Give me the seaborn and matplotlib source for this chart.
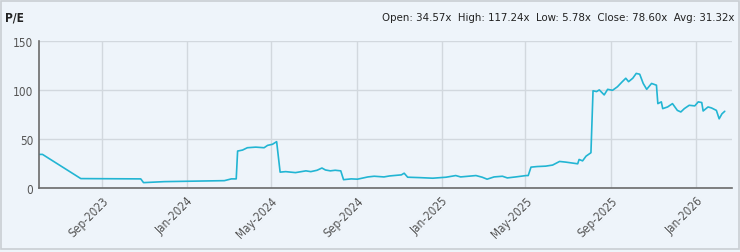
import matplotlib
matplotlib.use("Agg")
import matplotlib.pyplot as plt
import matplotlib.dates as mdates
from matplotlib.patches import Rectangle
import pandas as pd
import seaborn as sns

dates = [
    "2023-06-03", "2023-06-08", "2023-08-02", "2023-10-27", "2023-10-31", "2023-11-30",
    "2024-02-24", "2024-03-05", "2024-03-12", "2024-03-14", "2024-03-21", "2024-03-28",
    "2024-04-09", "2024-04-21", "2024-04-26", "2024-05-03", "2024-05-09", "2024-05-14",
    "2024-05-22", "2024-06-05", "2024-06-20", "2024-06-27", "2024-07-06", "2024-07-13",
    "2024-07-18", "2024-07-25", "2024-08-01", "2024-08-09", "2024-08-13", "2024-08-24",
    "2024-09-02", "2024-09-17", "2024-09-26", "2024-10-10", "2024-10-18", "2024-11-04",
    "2024-11-08", "2024-11-13", "2024-11-30", "2024-12-19", "2025-01-07", "2025-01-21",
    "2025-01-28", "2025-02-19", "2025-02-28", "2025-03-07", "2025-03-17", "2025-03-29",
    "2025-04-05", "2025-04-17", "2025-05-02", "2025-05-05", "2025-05-09", "2025-05-18",
    "2025-05-30", "2025-06-09", "2025-06-19", "2025-06-28", "2025-07-08", "2025-07-15",
    "2025-07-17", "2025-07-22", "2025-07-27", "2025-08-03", "2025-08-06", "2025-08-11",
    "2025-08-15", "2025-08-22", "2025-08-27", "2025-09-03", "2025-09-10", "2025-09-17",
    "2025-09-22", "2025-09-26", "2025-10-02", "2025-10-07", "2025-10-12", "2025-10-17",
    "2025-10-22", "2025-10-29", "2025-11-05", "2025-11-07", "2025-11-12", "2025-11-14",
    "2025-11-21", "2025-11-28", "2025-12-05", "2025-12-10", "2025-12-15", "2025-12-22",
    "2025-12-30", "2026-01-04", "2026-01-09", "2026-01-11", "2026-01-18", "2026-01-23",
    "2026-01-30", "2026-02-03", "2026-02-07", "2026-02-11",
]
pe_values = [
    34.57, 34.6, 9.9, 9.6, 5.78, 6.8,
    7.8, 9.6, 9.6, 38.0, 39.0, 41.4,
    42.0, 41.4, 43.8, 44.9, 47.6, 16.5,
    17.0, 16.0, 17.8, 17.0, 18.4, 20.7,
    18.7, 17.8, 18.4, 17.8, 8.8, 9.6,
    9.3, 11.6, 12.3, 11.6, 12.6, 13.7,
    15.4, 11.3, 10.9, 10.3, 11.3, 13.0,
    11.6, 13.0, 11.3, 9.3, 11.6, 12.3,
    10.6, 11.6, 13.0, 13.0, 21.6, 22.2,
    22.6, 23.7, 27.4, 26.7, 25.7, 25.0,
    29.4, 28.0, 32.8, 36.3, 99.5, 98.7,
    100.4, 95.3, 101.0, 100.0, 103.6, 108.8,
    112.3, 108.8, 112.3, 117.24, 116.4, 107.0,
    101.0, 107.0, 105.2, 86.4, 88.2, 81.3,
    83.0, 86.4, 79.5, 77.9, 81.3, 84.7,
    84.1, 88.2, 87.5, 78.9, 83.0, 82.0,
    79.5, 70.9, 76.0, 78.60,
]
title_text = "P/E"
stats_text = "Open: 34.57x  High: 117.24x  Low: 5.78x  Close: 78.60x  Avg: 31.32x"
y_ticks = [0, 50, 100, 150]
x_start, x_end = "2023-06-03", "2026-02-21"

bg = "#eef4fa"
sns.set_style("whitegrid", {
    "axes.facecolor": bg,
    "figure.facecolor": bg,
    "grid.color": "#d2d8de",
    "axes.edgecolor": "#6b6b6b",
})
plt.rcParams["font.family"] = ["DejaVu Sans"]
plt.rcParams["font.stretch"] = "condensed"

df = pd.DataFrame({"date": pd.to_datetime(dates), "pe": pe_values})

fig = plt.figure(figsize=(7.4, 2.53), dpi=100)
ax = fig.add_axes([0.0527, 0.2518, 0.9361, 0.581])
sns.lineplot(data=df, x="date", y="pe", ax=ax, color="#22b5d3", linewidth=1.2)

ax.set_xlim(pd.Timestamp(x_start), pd.Timestamp(x_end))
ax.set_ylim(0, 150)
ax.set_yticks(y_ticks)
ax.xaxis.set_major_locator(mdates.MonthLocator(bymonth=[1, 5, 9]))
ax.xaxis.set_major_formatter(mdates.DateFormatter("%b-%Y"))
ax.set_xlabel("")
ax.set_ylabel("")
ax.grid(True, color="#d2d8de", linewidth=1.0)
for s in ["top", "right"]:
    ax.spines[s].set_visible(False)
for s in ["left", "bottom"]:
    ax.spines[s].set_color("#6b6b6b")
    ax.spines[s].set_linewidth(1.2)
ax.tick_params(axis="both", length=0, labelsize=8.5, labelcolor="#555555", pad=4)
for lbl in ax.get_xticklabels():
    lbl.set_rotation(45)
    lbl.set_ha("right")
    lbl.set_rotation_mode("anchor")
    lbl.set_fontstretch("condensed")
for lbl in ax.get_yticklabels():
    lbl.set_fontstretch("condensed")

fig.text(0.007, 0.93, title_text, fontsize=8.5, fontweight="bold", color="#222222",
         ha="left", va="center", fontstretch="condensed")
fig.text(0.993, 0.93, stats_text, fontsize=8.2, color="#222222", ha="right", va="center",
         fontstretch="condensed")

fig.add_artist(Rectangle((0.001, 0.012), 0.997, 0.98, transform=fig.transFigure,
                         fill=False, edgecolor="#c9ced3", linewidth=1.2))

fig.savefig("out.png", dpi=100, facecolor=bg)
